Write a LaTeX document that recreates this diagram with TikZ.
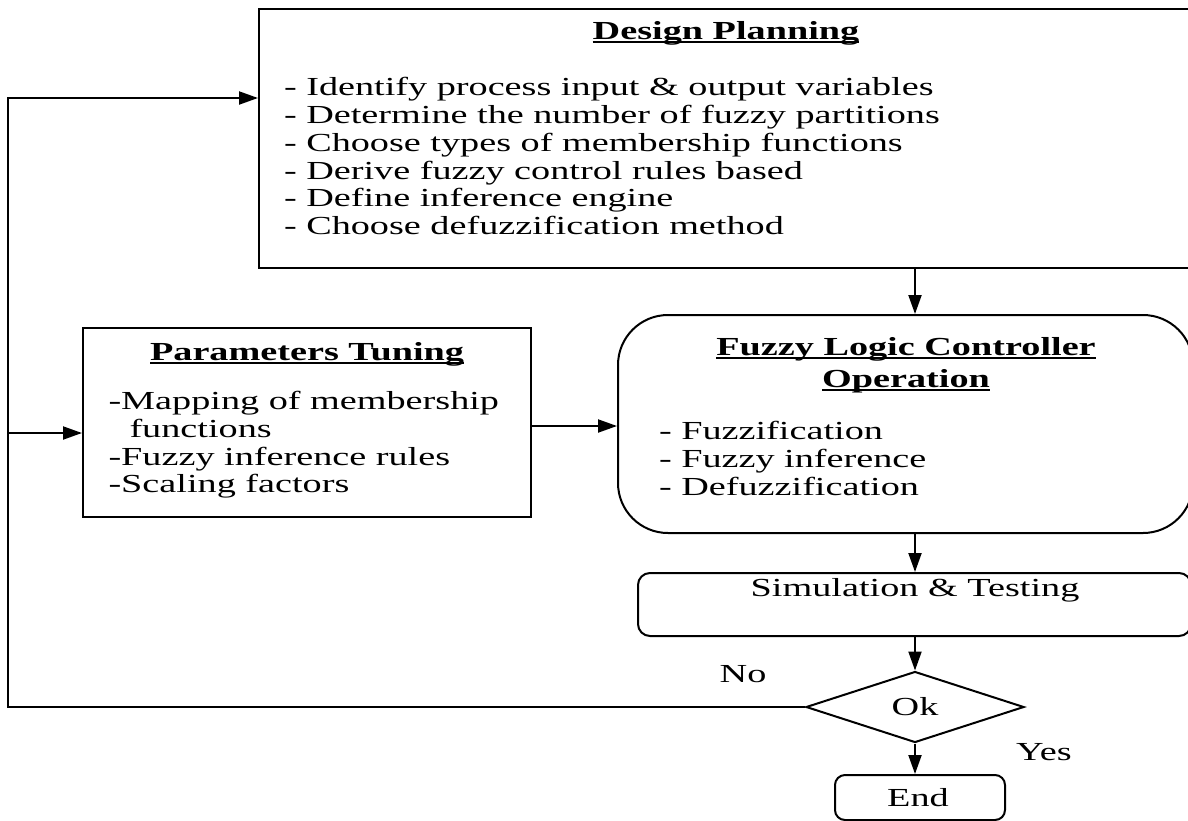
\documentclass[tikz,border=0pt]{standalone}
\usepackage{fontspec}
\setmainfont{Liberation Serif}[FakeStretch=1.47]
\usetikzlibrary{arrows.meta,shapes.geometric}
% underline at a fixed depth, crossing the descenders
\newcommand\hdline[1]{\setbox0\hbox{#1}\rlap{\rule[-2pt]{\wd0}{0.9pt}}\box0}
\begin{document}
\begin{tikzpicture}[x=0.5pt,y=-0.5pt,line width=1pt,
  box/.style={draw,rectangle,inner sep=0pt,anchor=north west},
  txt/.style={inner sep=0pt,anchor=base west,font=\fontsize{13pt}{14pt}\selectfont},
  ctxt/.style={inner sep=0pt,anchor=base,font=\fontsize{13pt}{14pt}\selectfont},
  ttl/.style={inner sep=0pt,anchor=base,font=\fontsize{13pt}{14pt}\selectfont\bfseries},
  arr/.style={-{Triangle[length=9.5pt,width=6.5pt]}}]
\useasboundingbox (0,0) rectangle (1188,820);
\fill[white] (0,0) rectangle (1188,820);
\clip (0,0) rectangle (1188,820);

% boxes
\node[box,minimum width=471pt,minimum height=129.5pt] (dp) at (258,8) {};
\node[box,minimum width=224pt,minimum height=94.5pt] (pt) at (82,327) {};
\node[box,rounded corners=25pt,minimum width=287.5pt,minimum height=109pt] (flc) at (617,314) {};
\node[box,rounded corners=6pt,minimum width=276.5pt,minimum height=31.5pt] (sim) at (637,572) {};
\node[draw,diamond,inner sep=0pt,minimum width=109pt,minimum height=35.5pt,
      font=\fontsize{13pt}{14pt}\selectfont] (ok) at (915,707) {Ok};
\node[box,rounded corners=5pt,minimum width=85pt,minimum height=22.5pt] (end) at (834,774) {};

% Design Planning
\node[ttl] (dpt) at (726,39) {\hdline{Design Planning}};
\node[txt] (dp1) at (283,95.5) {- Identify process input \& output variables};
\node[txt] (dp2) at (283,123.5) {- Determine the number of fuzzy partitions};
\node[txt] (dp3) at (283,151.3) {- Choose types of membership functions};
\node[txt] (dp4) at (283,179) {- Derive fuzzy control rules based};
\node[txt] (dp5) at (283,206.7) {- Define inference engine};
\node[txt] (dp6) at (283,234.5) {- Choose defuzzification method};

% Parameters Tuning
\node[ttl] (ptt) at (307,360) {\hdline{Parameters Tuning}};
\node[txt] (pt1) at (107.5,409) {-Mapping of membership};
\node[txt] (pt2) at (128.5,437) {functions};
\node[txt] (pt3) at (107.5,465) {-Fuzzy inference rules};
\node[txt] (pt4) at (107.5,492) {-Scaling factors};

% Fuzzy Logic Controller Operation
\node[ttl] (flct1) at (906,355) {\hdline{Fuzzy Logic Controller}};
\node[ttl] (flct2) at (906,387) {\hdline{Operation}};
\node[txt] (flc1) at (658,439) {- Fuzzification};
\node[txt] (flc2) at (658,467) {- Fuzzy inference};
\node[txt] (flc3) at (658,495) {- Defuzzification};

% Simulation, decision, end
\node[ctxt] (simt) at (915,596) {Simulation \& Testing};
\node[ctxt] (endt) at (918,806) {End};
\node[ctxt] (no) at (743,682) {No};
\node[ctxt] (yes) at (1044,760) {Yes};

% connectors
\draw[arr] (dp.south -| ok.north) -- (flc.north -| ok.north);
\draw[arr] (flc.south -| ok.north) -- (sim.north -| ok.north);
\draw[arr] (sim.south -| ok.north) -- (ok.north);
\draw[arr] (ok.south) -- (end.north -| ok.south);

\coordinate (loopTop) at (7.5,98);
\coordinate (loopMid) at (7.5,433);
\coordinate (loopBot) at (7.5,707);
\draw[arr] (ok.west) -- (loopBot) -- (loopTop) -- (dp.west |- loopTop);
\draw[arr] (loopMid) -- (pt.west |- loopMid);
\coordinate (ptOut) at (pt.east |- 0,426);
\draw[arr] (ptOut) -- (flc.west |- ptOut);
\end{tikzpicture}
\end{document}
